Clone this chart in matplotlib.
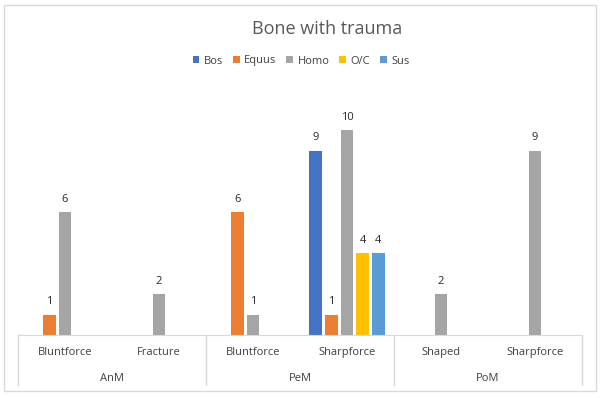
import numpy as np
import matplotlib.pyplot as plt
from matplotlib.patches import Rectangle, Patch

# Data
groups = ["AnM", "PeM", "PoM"]
categories = ["Bluntforce", "Fracture", "Bluntforce", "Sharpforce", "Shaped", "Sharpforce"]
series = ["Bos", "Equus", "Homo", "O/C", "Sus"]
bos = [np.nan, np.nan, np.nan, 9, np.nan, np.nan]
equus = [1, np.nan, 6, 1, np.nan, np.nan]
homo = [6, 2, 1, 10, 2, 9]
oc = [np.nan, np.nan, np.nan, 4, np.nan, np.nan]
sus = [np.nan, np.nan, np.nan, 4, np.nan, np.nan]
values = [bos, equus, homo, oc, sus]
colors = ["#4472C4", "#ED7D31", "#A5A5A5", "#FFC000", "#5B9BD5"]

W, H = 600, 398
fig = plt.figure(figsize=(W / 100, H / 100), dpi=100)
plt.rcParams['font.family'] = ['Open Sans', 'DejaVu Sans']

# chart border
fig.patches.append(Rectangle((4 / W, 1 - 391 / H), 592 / W, 386 / H, transform=fig.transFigure,
                             fill=False, edgecolor="#D9D9D9", linewidth=1))

ax = fig.add_axes([18 / W, 1 - 335 / H, 564 / W, 246 / H])
x = np.arange(len(categories))
slot = 0.167
bw = 0.134
for i, (name, vals, c) in enumerate(zip(series, values, colors)):
    pos = x + (i - 2) * slot
    ax.bar(pos, vals, width=bw, color=c, label=name)
    for p, v in zip(pos, vals):
        if not np.isnan(v):
            ax.text(p, v + 0.35, f"{v:g}", ha="center", va="bottom", fontsize=8, color="#262626")

ax.set_xlim(-0.5, len(categories) - 0.5)
ax.set_ylim(0, 12)
for s in ["top", "left", "right"]:
    ax.spines[s].set_visible(False)
ax.spines["bottom"].set_color("#D9D9D9")
ax.set_xticks([])
ax.set_yticks([])

# multi-level category axis
tr = ax.get_xaxis_transform()
for xv in [-0.5, 1.5, 3.5, 5.5]:
    ax.plot([xv, xv], [0, -0.203], transform=tr, color="#D9D9D9", lw=1, clip_on=False)
for xi, lab in zip(x, categories):
    ax.text(xi, -0.073, lab, transform=tr, ha="center", va="center", fontsize=8, color="#404040")
for gi, g in enumerate(groups):
    ax.text(2 * gi + 0.5, -0.175, g, transform=tr, ha="center", va="center", fontsize=8, color="#404040")

fig.text(327 / W, 1 - 29 / H, "Bone with trauma", ha="center", va="center", fontsize=13, color="#595959")

handles = [Patch(facecolor=c, label=n) for n, c in zip(series, colors)]
fig.legend(handles=handles, loc="center", bbox_to_anchor=(301 / W, 1 - 61 / H), ncol=5, frameon=False,
           fontsize=8, handlelength=0.6, handleheight=0.6, handletextpad=0.4, columnspacing=0.9,
           labelcolor="#404040")

fig.savefig("out.png", dpi=100)
